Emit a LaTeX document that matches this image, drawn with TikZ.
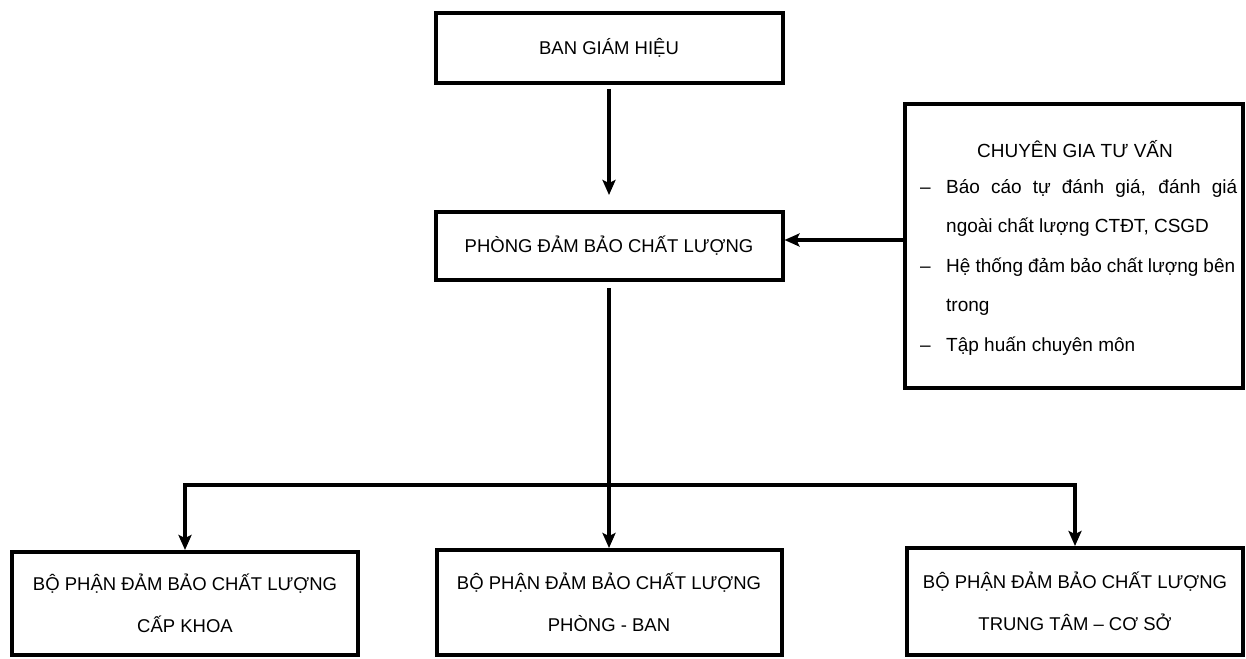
\documentclass[tikz,border=0pt]{standalone}
\usepackage{fontspec}
\setmainfont{Liberation Sans}
\usetikzlibrary{arrows.meta,calc}
\tikzset{
  box/.style={draw, line width=4pt, inner sep=0pt, align=center, font=\fontsize{18.5}{42}\selectfont},
  conn/.style={line width=3.5pt},
  arr/.style={conn, -{Stealth[length=15pt,width=13pt,inset=3pt]}},
  txt/.style={inner sep=0pt, anchor=base west, font=\fontsize{19}{22}\selectfont},
}
\begin{document}
\begin{tikzpicture}[x=1pt,y=-1pt]
\useasboundingbox (0,0) rectangle (1246,658);
% boxes
\node[box, minimum width=347pt, minimum height=70pt] (ban) at (609,48) {BAN GIÁM HIỆU};
\node[box, minimum width=347pt, minimum height=68pt] (phong) at (609,246) {PHÒNG ĐẢM BẢO CHẤT LƯỢNG};
\node[box, minimum width=338pt, minimum height=284pt] (cg) at (1074,246) {};
\node[box, minimum width=346pt, minimum height=103pt] (khoa) at (185,603.5) {BỘ PHẬN ĐẢM BẢO CHẤT LƯỢNG\\CẤP KHOA};
\node[box, minimum width=345pt, minimum height=105pt] (pb) at (609,602.5) {BỘ PHẬN ĐẢM BẢO CHẤT LƯỢNG\\PHÒNG - BAN};
\node[box, minimum width=336pt, minimum height=107pt] (tt) at (1075,601.5) {BỘ PHẬN ĐẢM BẢO CHẤT LƯỢNG\\TRUNG TÂM – CƠ SỞ};
% consultant text
\node[txt, anchor=base] (cgt) at (1075,157) {CHUYÊN GIA TƯ VẤN};
\node[txt] (d1) at (920,193) {–};
\node[txt] (l1) at (946,193) {\makebox[291pt][s]{Báo cáo tự đánh giá, đánh giá}};
\node[txt] (l2) at (946,232) {ngoài chất lượng CTĐT, CSGD};
\node[txt] (d2) at (920,272) {–};
\node[txt] (l3) at (946,272) {\makebox[289pt][s]{Hệ thống đảm bảo chất lượng bên}};
\node[txt] (l4) at (946,311) {trong};
\node[txt] (d3) at (920,351) {–};
\node[txt] (l5) at (946,351) {Tập huấn chuyên môn};
% connectors
\draw[arr, shorten <=4pt, shorten >=15pt] (ban.south) -- (phong.north);
\draw[arr] ([yshift=6pt]cg.west) -- ([yshift=6pt]phong.east);
\coordinate (hub) at (609,485);
\draw[conn, shorten <=6pt] (phong.south) -- (hub);
\draw[arr] (hub) -| (khoa.north);
\draw[arr] (hub) -- (pb.north);
\draw[arr] (hub) -| (tt.north);
\end{tikzpicture}
\end{document}
